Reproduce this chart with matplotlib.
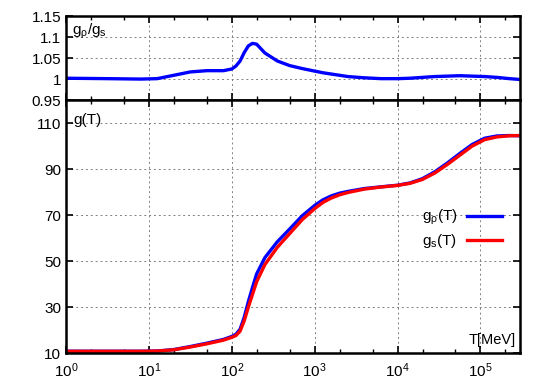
import numpy as np
import matplotlib
matplotlib.use('Agg')
import matplotlib.pyplot as plt
from matplotlib.ticker import LogLocator, NullFormatter, FixedLocator

plt.rcParams['font.family'] = ['Liberation Sans', 'DejaVu Sans']
plt.rcParams['mathtext.fontset'] = 'custom'
plt.rcParams['mathtext.rm'] = 'Liberation Sans'
plt.rcParams['mathtext.it'] = 'Liberation Sans'
plt.rcParams['mathtext.default'] = 'regular'

# temperature points (log10 of T in MeV)
logT = [0, 0.5, 0.9, 1.1, 1.3, 1.5, 1.7, 1.9, 2.0, 2.05, 2.1, 2.15, 2.2, 2.25, 2.3, 2.4,
        2.55, 2.7, 2.85, 3.0, 3.1, 3.2, 3.3, 3.4, 3.6, 3.8, 4.0, 4.15, 4.3, 4.45, 4.6,
        4.75, 4.9, 5.05, 5.2, 5.35, 5.477]
# entropy degrees of freedom g_s(T)
g_s = [10.75, 10.75, 10.76, 10.85, 11.4, 12.6, 14.0, 15.6, 16.8, 17.6, 19.5, 24.0, 30.0,
       35.5, 41.0, 48.5, 56.0, 62.0, 68.0, 72.8, 75.5, 77.4, 78.8, 79.8, 81.3, 82.2, 82.9,
       83.8, 85.5, 88.3, 92.0, 96.0, 100.0, 102.8, 104.0, 104.5, 104.6]
# ratio g_rho / g_s
ratio = [1.002, 1.001, 1.0, 1.001, 1.009, 1.017, 1.020, 1.020, 1.024, 1.031, 1.043, 1.063,
         1.079, 1.085, 1.083, 1.062, 1.043, 1.032, 1.025, 1.019, 1.015, 1.012, 1.009, 1.006,
         1.003, 1.001, 1.001, 1.002, 1.004, 1.006, 1.007, 1.008, 1.007, 1.006, 1.004, 1.001,
         0.999]

T = 10 ** np.array(logT)
g_rho = np.array(g_s) * np.array(ratio)

fig = plt.figure(figsize=(5.45, 3.82), dpi=100)
ax1 = fig.add_axes([0.1211, 0.738, 0.833, 0.220])
ax2 = fig.add_axes([0.1211, 0.0759, 0.833, 0.662])

for ax in (ax1, ax2):
    ax.set_xscale('log')
    ax.set_xlim(1, 3e5)
    ax.xaxis.set_major_locator(LogLocator(base=10, numticks=10))
    ax.xaxis.set_minor_locator(LogLocator(base=10, subs=(2, 5), numticks=10))
    ax.xaxis.set_minor_formatter(NullFormatter())
    ax.tick_params(which='both', direction='in', top=True, right=True, labelsize=11)
    ax.tick_params(which='major', length=5, width=1.2)
    ax.tick_params(which='minor', length=3, width=1.0)
    ax.tick_params(axis='x', pad=6)
    ax.grid(True, which='major', linestyle=(0, (2, 3)), color='gray', linewidth=0.7)
    for s in ax.spines.values():
        s.set_linewidth(1.8)

ax1.plot(T, ratio, color='#0000ff', linewidth=2.4)
ax1.set_ylim(0.95, 1.15)
ax1.yaxis.set_major_locator(FixedLocator([0.95, 1.0, 1.05, 1.1, 1.15]))
ax1.set_yticklabels(['0.95', '1', '1.05', '1.1', '1.15'])
ax1.tick_params(labelbottom=False)
ax1.text(0.013, 0.93, 'g$_ρ$/g$_s$', transform=ax1.transAxes, fontsize=11, va='top')

ax2.plot(T, g_rho, color='#0000ff', linewidth=2.4, label='g$_ρ$(T)')
ax2.plot(T, g_s, color='#ff0000', linewidth=2.4, label='g$_s$(T)')
ax2.set_ylim(10, 120)
ax2.set_yticks([10, 30, 50, 70, 90, 110])
ax2.text(0.017, 0.95, 'g(T)', transform=ax2.transAxes, fontsize=11, va='top')
ax2.text(0.99, 0.025, 'T[MeV]', transform=ax2.transAxes, fontsize=10.5, ha='right', va='bottom')
ax2.legend(loc='center right', bbox_to_anchor=(0.99, 0.49), frameon=False, markerfirst=False,
           fontsize=11, handlelength=2.3, handletextpad=0.6, labelspacing=0.3)

fig.savefig('out.png', dpi=100)
